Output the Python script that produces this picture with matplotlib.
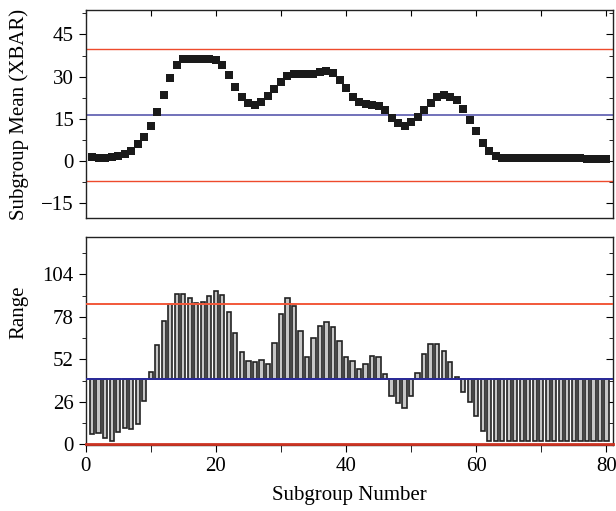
import matplotlib
matplotlib.use("Agg")
import matplotlib.pyplot as plt
from matplotlib.ticker import MultipleLocator

plt.rcParams['font.family'] = ['Liberation Serif', 'DejaVu Serif']

# subgroup means (top panel)
xbar = [1.3, 0.95, 0.95, 1.3, 1.7, 2.5, 3.7, 5.9, 8.4, 12.3,
        17.3, 23.3, 29.4, 34.0, 36.1, 36.4, 36.1, 36.1, 36.1, 35.8,
        34.0, 30.5, 26.2, 22.8, 20.5, 19.9, 20.9, 23.1, 25.5, 28.1,
        30.2, 30.9, 30.9, 30.9, 30.9, 31.6, 32.0, 31.4, 28.8, 25.8,
        22.9, 21.1, 20.3, 20.0, 19.6, 18.1, 15.2, 13.4, 12.6, 13.8,
        15.8, 18.1, 20.5, 22.6, 23.5, 22.9, 21.7, 18.4, 14.6, 10.7,
        6.5, 3.7, 1.9, 1.2, 1.1, 1.1, 1.1, 1.1, 1.1, 1.1,
        1.1, 1.1, 1.1, 1.1, 1.1, 1.1, 0.8, 0.8, 0.8, 0.8]

# subgroup ranges (bottom panel)
rng = [6.3, 7.1, 3.7, 2.2, 7.7, 10.2, 9.2, 12.2, 26.7, 44.0,
       60.7, 75.4, 86.2, 91.9, 92.3, 89.3, 86.6, 87.2, 90.7, 93.6,
       91.1, 81.3, 68.3, 56.5, 51.0, 50.5, 51.6, 48.9, 62.1, 79.7,
       89.3, 84.6, 69.5, 53.6, 65.4, 72.5, 74.6, 71.6, 63.4, 53.6,
       51.0, 46.3, 49.5, 54.2, 53.2, 43.0, 29.7, 25.4, 22.4, 29.7,
       43.8, 55.6, 61.3, 61.3, 57.3, 50.2, 41.4, 32.2, 25.7, 17.5,
       8.3, 2.3, 2.2, 2.1, 2.2, 1.9, 2.2, 2.1, 2.0, 2.1,
       2.2, 2.0, 2.1, 2.2, 2.1, 2.3, 2.2, 2.1, 2.3, 2.4]

subgroup = list(range(1, len(xbar) + 1))

xbar_ucl, xbar_cl, xbar_lcl = 39.8, 16.35, -7.1
r_ucl, r_cl, r_lcl = 85.6, 40.0, 0.0

FS = 15

fig = plt.figure(figsize=(6.16, 5.11), dpi=100)
ax1 = fig.add_axes([0.139, 0.5734, 0.856, 0.407])
ax2 = fig.add_axes([0.139, 0.129, 0.856, 0.4076])

# top: X-bar chart
ax1.plot(subgroup, xbar, 's', color='#1a1a1a', ms=6.4, mew=0, zorder=3)
ax1.axhline(xbar_ucl, color='#ee4a2c', lw=1.0, zorder=2)
ax1.axhline(xbar_cl, color='#6666b4', lw=1.3, zorder=2)
ax1.axhline(xbar_lcl, color='#ee4a2c', lw=1.0, zorder=2)
ax1.set_xlim(0, 81)
ax1.set_ylim(-20.3, 53.7)
ax1.yaxis.set_major_locator(MultipleLocator(15))
ax1.yaxis.set_minor_locator(MultipleLocator(7.5))
ax1.xaxis.set_major_locator(MultipleLocator(10))
ax1.tick_params(axis='x', which='both', bottom=False, labelbottom=False,
                top=True, direction='in', length=4)
ax1.tick_params(axis='y', which='major', direction='out', length=5, labelsize=FS)
ax1.tick_params(axis='y', which='minor', direction='out', length=3)
ax1.tick_params(axis='y', which='both', right=True)
ax1.set_ylabel('Subgroup Mean (XBAR)', fontsize=FS)
ax1.yaxis.set_label_coords(-0.108, 0.5)

# bottom: range chart
heights = [r - r_cl for r in rng]
ax2.bar(subgroup, heights, bottom=r_cl, width=0.66, color='#c6c6c6',
        edgecolor='#222222', linewidth=1.2, zorder=2)
ax2.axhline(r_ucl, color='#f2583a', lw=1.4, zorder=3)
ax2.axhline(r_cl, color='#2a2a9a', lw=1.4, zorder=3)
ax2.axhline(r_lcl, color='#cc3322', lw=2.0, zorder=3, clip_on=False)
ax2.set_xlim(0, 81)
ax2.set_ylim(-0.4, 127)
ax2.yaxis.set_major_locator(MultipleLocator(26))
ax2.yaxis.set_minor_locator(MultipleLocator(13))
ax2.xaxis.set_major_locator(MultipleLocator(20))
ax2.xaxis.set_minor_locator(MultipleLocator(10))
ax2.tick_params(axis='x', which='both', direction='out', length=5, labelsize=FS)
ax2.tick_params(axis='y', which='major', direction='out', length=5, labelsize=FS)
ax2.tick_params(axis='y', which='minor', direction='out', length=3)
ax2.tick_params(axis='y', which='both', right=True)
ax2.set_ylabel('Range', fontsize=FS)
ax2.yaxis.set_label_coords(-0.108, 0.64)
ax2.set_xlabel('Subgroup Number', fontsize=FS, labelpad=7)

# right side ticks point inward, left side outward
for ax in (ax1, ax2):
    for t in ax.yaxis.get_major_ticks() + ax.yaxis.get_minor_ticks():
        t.tick2line.set_marker(matplotlib.lines.TICKLEFT)
    for s in ax.spines.values():
        s.set_linewidth(1.0)
        s.set_color('#222222')

fig.savefig('out.png', dpi=100)
